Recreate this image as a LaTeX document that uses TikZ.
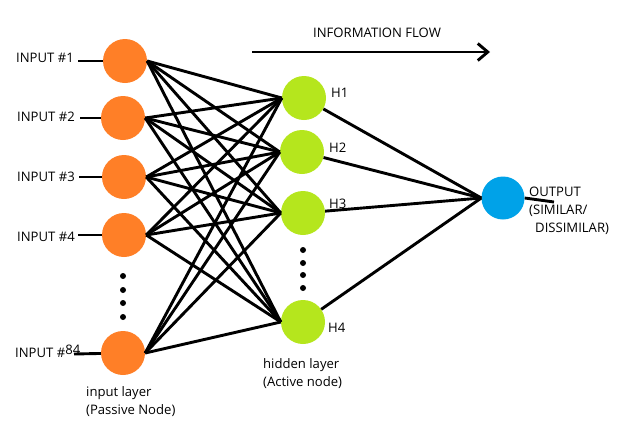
\documentclass[tikz,border=0pt]{standalone}
\usepackage{fontspec}
\setmainfont{Open Sans}
\usetikzlibrary{arrows.meta}
\definecolor{paintorange}{HTML}{FF7F27}
\definecolor{paintlime}{HTML}{B5E61D}
\definecolor{paintblue}{HTML}{00A2E8}

\begin{document}
\begin{tikzpicture}[x=1pt, y=-1pt,
    font=\fontsize{13.1}{18}\selectfont,
    inputnode/.style={circle, fill=paintorange, minimum size=44pt, inner sep=0pt},
    hiddennode/.style={circle, fill=paintlime, minimum size=44pt, inner sep=0pt},
    outputnode/.style={circle, fill=paintblue, minimum size=43pt, inner sep=0pt},
    txt/.style={anchor=west, inner sep=0pt, align=left},
    link/.style={line width=2.9pt},
    flow/.style={line width=2.9pt, -{Straight Barb[length=10pt, width=17pt]}},
]
\useasboundingbox (0,0) rectangle (639,434);

% Nodes
\node[inputnode] (i1) at (125,61) {};
\node[inputnode] (i2) at (123,118) {};
\node[inputnode] (i3) at (124,177) {};
\node[inputnode] (i4) at (124,235) {};
\node[inputnode] (i84) at (123,353) {};

\node[hiddennode] (h1) at (304,98) {};
\node[hiddennode] (h2) at (302,152) {};
\node[hiddennode] (h3) at (303,213) {};
\node[hiddennode] (h4) at (303,322) {};

\node[outputnode] (out) at (503,198) {};

% Labels
\node[txt] (l1) at (16,58) {INPUT \#1};
\node[txt] (l2) at (17,117) {INPUT \#2};
\node[txt] (l3) at (17,177) {INPUT \#3};
\node[txt] (l4) at (17,237) {INPUT \#4};
\node[txt] (l84) at (15,351) {INPUT \#\raisebox{3pt}{84}};

\node[txt] (t1) at (331,93) {H1};
\node[txt] (t2) at (329,148) {H2};
\node[txt] (t3) at (329,204) {H3};
\node[txt] (t4) at (328,328) {H4};

\node[txt] (tout) at (529,211) {OUTPUT\\(SIMILAR/\\\hspace{6pt}DISSIMILAR)};
\node[txt] (tin) at (86,402) {input layer\\(Passive Node)};
\node[txt] (thid) at (263,374) {hidden layer\\(Active node)};
\node[txt] (tflow) at (313,33) {INFORMATION FLOW};

% Stubs
\coordinate (s1) at (78,61);
\coordinate (s2) at (80,118);
\coordinate (s3) at (79,177);
\coordinate (s4) at (78,235);
\coordinate (s84) at (74,354);
\coordinate (so) at (554,202);
\coordinate (fa) at (252,52);
\coordinate (fb) at (490,52);

% Connections
\foreach \i in {1,2,3,4,84} {
  \draw[link] (s\i) -- (i\i);
  \foreach \h in {1,2,3,4}
    \draw[link] (i\i.east) -- (h\h.west);
}
\foreach \h in {1,2,3,4}
  \draw[link] (h\h) -- (out.west);
\draw[link] (out.east) -- (so);
\draw[flow] (fa) -- (fb);

% Dots
\foreach \y in {276,290,303,317}
  \fill (123,\y) circle (3pt);
\foreach \y in {250,263,275,288}
  \fill (303,\y) circle (3pt);

\end{tikzpicture}
\end{document}
